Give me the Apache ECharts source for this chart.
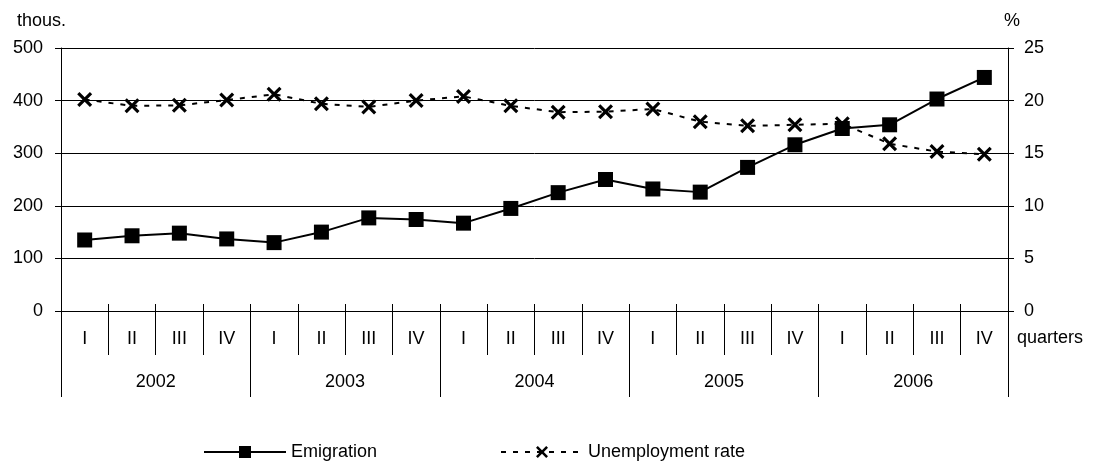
<!DOCTYPE html>
<html>
<head>
<meta charset="utf-8">
<script src="https://cdn.jsdelivr.net/npm/echarts@6/dist/echarts.min.js"></script>
<style>
  html, body { margin: 0; padding: 0; background: #fff; }
  #chart { width: 1096px; height: 464px; }
</style>
</head>
<body>
<div id="chart"></div>
<script>
  const quarters = ['I', 'II', 'III', 'IV', 'I', 'II', 'III', 'IV', 'I', 'II', 'III', 'IV',
    'I', 'II', 'III', 'IV', 'I', 'II', 'III', 'IV'];
  const years = ['2002', '2003', '2004', '2005', '2006'];
  const emigration = [135, 143, 148, 137, 130, 150, 177, 174, 167, 195, 225, 250,
    232, 226, 273, 316, 347, 354, 403, 444];
  const unemployment = [20.1, 19.5, 19.55, 20.05, 20.6, 19.7, 19.4, 20.0, 20.4, 19.5, 18.9, 18.95,
    19.2, 18.0, 17.6, 17.7, 17.8, 15.9, 15.15, 14.9];

  const font = 'Liberation Sans, Arial, sans-serif';
  const fs = 18;
  const crossPath = 'path://M0,1.5L1.5,0L5,3.5L8.5,0L10,1.5L6.5,5L10,8.5L8.5,10L5,6.5L1.5,10L0,8.5L3.5,5Z';
  const chart = echarts.init(document.getElementById('chart'));

  const legendBase = {
    top: 438,
    itemWidth: 82,
    itemHeight: 15,
    textStyle: { fontSize: fs, color: '#000', fontFamily: font },
  };

  chart.setOption({
    animation: false,
    textStyle: { fontFamily: font, color: '#000' },
    grid: { left: 61, right: 88, top: 48, bottom: 153 },
    legend: [
      Object.assign({ left: 198, data: ['Emigration'] }, legendBase),
      Object.assign({ left: 495, data: ['Unemployment rate'] }, legendBase),
    ],
    graphic: [
      { type: 'text', left: 17, top: 12, style: { text: 'thous.', font: fs + 'px ' + font, fill: '#000' } },
      { type: 'text', left: 1004, top: 12, style: { text: '%', font: fs + 'px ' + font, fill: '#000' } },
      { type: 'text', left: 1017, top: 329, style: { text: 'quarters', font: fs + 'px ' + font, fill: '#000' } },
    ],
    xAxis: [
      {
        type: 'category',
        data: quarters,
        boundaryGap: true,
        axisLine: { lineStyle: { color: '#000', width: 1 } },
        axisTick: { show: true, length: 44, interval: 0, lineStyle: { color: '#000' } },
        axisLabel: { interval: 0, margin: 19, fontSize: fs, color: '#000' },
        splitLine: { show: false },
      },
      {
        type: 'category',
        data: years,
        boundaryGap: true,
        position: 'bottom',
        axisLine: { show: false },
        axisTick: { show: true, length: 86, interval: 0, lineStyle: { color: '#000' } },
        axisLabel: { interval: 0, margin: 62, fontSize: fs, color: '#000' },
      },
      {
        type: 'category',
        data: quarters,
        boundaryGap: true,
        position: 'bottom',
        axisLine: { show: false },
        axisTick: { show: true, inside: true, length: 7, interval: 0, lineStyle: { color: '#000' } },
        axisLabel: { show: false },
      },
    ],
    yAxis: [
      {
        type: 'value',
        min: 0,
        max: 500,
        interval: 100,
        axisLine: { show: true, lineStyle: { color: '#000' } },
        axisTick: { show: true, length: 6, lineStyle: { color: '#000' } },
        axisLabel: { fontSize: fs, color: '#000', margin: 18 },
        splitLine: { show: true, lineStyle: { color: '#000', width: 1 } },
      },
      {
        type: 'value',
        min: 0,
        max: 25,
        interval: 5,
        position: 'right',
        axisLine: { show: true, lineStyle: { color: '#000' } },
        axisTick: { show: true, length: 6, lineStyle: { color: '#000' } },
        axisLabel: { fontSize: fs, color: '#000', margin: 16 },
        splitLine: { show: false },
      },
    ],
    series: [
      {
        name: 'Emigration',
        type: 'line',
        xAxisIndex: 0,
        yAxisIndex: 0,
        data: emigration,
        symbol: 'rect',
        symbolSize: 15,
        itemStyle: { color: '#000' },
        lineStyle: { color: '#000', width: 2 },
        z: 3,
      },
      {
        name: 'Unemployment rate',
        type: 'line',
        xAxisIndex: 0,
        yAxisIndex: 1,
        data: unemployment,
        symbol: crossPath,
        symbolSize: 15,
        itemStyle: { color: '#000' },
        lineStyle: { color: '#000', width: 2, type: [5, 7] },
        z: 4,
      },
    ],
  });
</script>
</body>
</html>
